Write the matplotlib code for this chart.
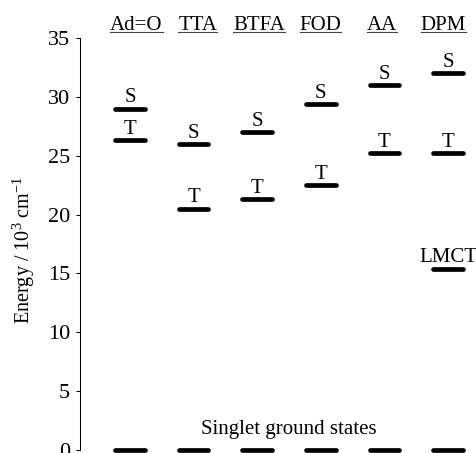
import matplotlib
matplotlib.use("Agg")
import matplotlib.pyplot as plt
from matplotlib.lines import Line2D
from matplotlib.transforms import blended_transform_factory

plt.rcParams["font.family"] = ["Liberation Serif", "DejaVu Serif"]
plt.rcParams["mathtext.fontset"] = "custom"
plt.rcParams["mathtext.rm"] = "Liberation Serif"
plt.rcParams["mathtext.it"] = "Liberation Serif:italic"

# Ligand names and their state energies (10^3 cm^-1)
ligands = ["Ad=O", "TTA", "BTFA", "FOD", "AA", "DPM"]
singlet = [29.0, 26.0, 27.0, 29.4, 31.0, 32.0]
triplet = [26.3, 20.5, 21.3, 22.5, 25.2, 25.2]
ground = [0, 0, 0, 0, 0, 0]
lmct_ligand = "DPM"
lmct_energy = 15.4

y_ticks = [0, 5, 10, 15, 20, 25, 30, 35]

FS = 15
W, H = 476, 453
fig = plt.figure(figsize=(W / 100, H / 100), dpi=100)
ax = fig.add_axes([80 / W, 3 / H, 396 / W, 412 / H])

xpos = list(range(1, len(ligands) + 1))
half = 0.234
lw = 3.4


def level(x, e, label=None):
    ax.plot([x - half, x + half], [e, e], color="black", lw=lw,
            solid_capstyle="round", clip_on=False)
    if label:
        ax.annotate(label, (x, e), xytext=(0, 4.6), textcoords="offset points",
                    ha="center", va="baseline", fontsize=FS)


for x, s, t, g in zip(xpos, singlet, triplet, ground):
    level(x, s, "S")
    level(x, t, "T")
    level(x, g)

lx = xpos[ligands.index(lmct_ligand)]
level(lx, lmct_energy, "LMCT")

ax.annotate("Singlet ground states", ((xpos[2] + xpos[3]) / 2, 0),
            xytext=(0, 11.5), textcoords="offset points",
            ha="center", va="baseline", fontsize=FS)

ax.set_xlim(0.214, 6.44)
ax.set_ylim(0, 35)
ax.set_yticks(y_ticks)
ax.set_yticklabels([str(v) for v in y_ticks], fontsize=16)
ax.tick_params(axis="y", direction="out", length=3, width=0.75, pad=4.3)
ax.set_xticks([])
for side in ("top", "right", "bottom"):
    ax.spines[side].set_visible(False)
ax.spines["left"].set_linewidth(0.75)

ax.set_ylabel("Energy / 10$^{3}$ cm$^{-1}$", fontsize=14.5)
ax.yaxis.set_label_coords(-0.108, 0.485)

# Underlined ligand headers above the plot
trans = blended_transform_factory(ax.transData, ax.transAxes)
headers = []
for i, name in enumerate(ligands):
    hx = 1.10 + 0.965 * i
    headers.append(ax.text(hx, 1.0206, name, transform=trans, ha="center",
                           va="baseline", fontsize=FS, clip_on=False))

fig.canvas.draw()
renderer = fig.canvas.get_renderer()
uy = 1 - 31.7 / H
for t in headers:
    bb = t.get_window_extent(renderer)
    fig.add_artist(Line2D([bb.x0 / W, bb.x1 / W], [uy, uy],
                          transform=fig.transFigure, color="#444444", lw=0.8))

fig.savefig("out.png", dpi=100)
